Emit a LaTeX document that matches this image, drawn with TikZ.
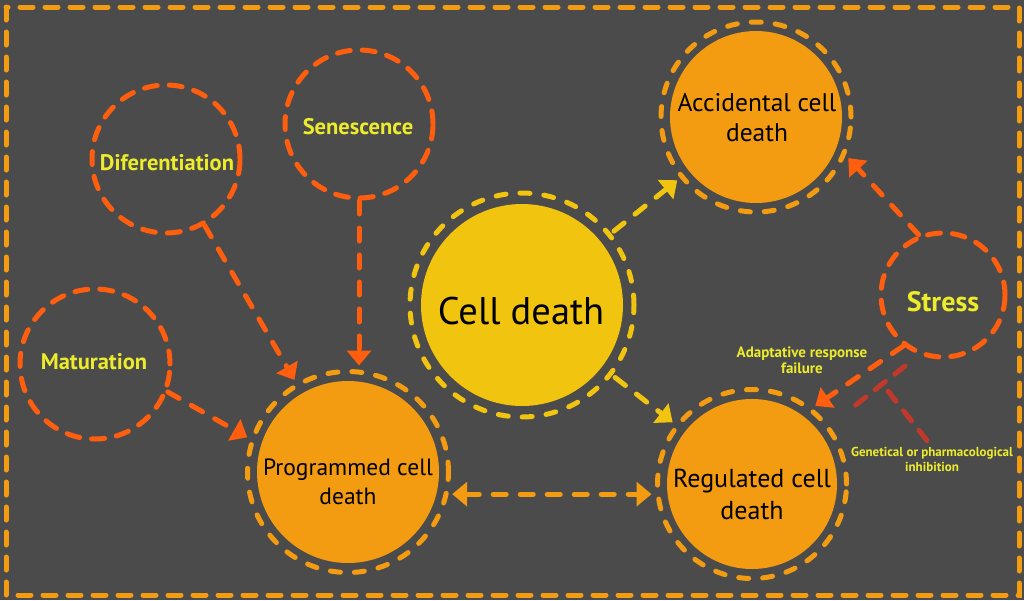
\documentclass[tikz,border=0pt]{standalone}
\usepackage{fontspec}
\setmainfont{PT Sans}
\usetikzlibrary{arrows.meta}
\definecolor{bg}{HTML}{4B4B4B}
\definecolor{orng}{HTML}{F39C12}
\definecolor{yel}{HTML}{F1C40F}
\definecolor{redor}{HTML}{FF5E0E}
\definecolor{inh}{HTML}{C0392B}
\definecolor{lbl}{HTML}{ECEC2C}
\begin{document}
\begin{tikzpicture}[x=1pt,y=-1pt,
  ring/.style={circle, draw, line width=5pt, dash pattern=on 10pt off 14pt, line cap=round, inner sep=0pt, outer sep=6pt},
  proc/.style={circle, draw=redor, line width=5pt, dash pattern=on 13pt off 12pt, line cap=round, inner sep=0pt, outer sep=3pt},
  ptext/.style={text=lbl, inner sep=0pt, font=\bfseries\fontsize{22.5}{26}\selectfont},
  core/.style={circle, inner sep=0pt, outer sep=0pt},
  ctext/.style={align=center, text=black, inner sep=0pt},
  conn/.style={line width=5pt, dash pattern=on 13pt off 14pt, line cap=round, -{Triangle[length=15pt,width=24pt]}},
  lab/.style={align=center, text=lbl, inner sep=0pt, font=\bfseries\fontsize{15}{16}\selectfont},
  inhline/.style={inh, line width=5pt, dash pattern=on 13pt off 12pt, line cap=round},
]
\fill[bg] (0,0) rectangle (1024,600);
\useasboundingbox (0,0) rectangle (1024,600);
\draw[orng, line width=5pt, dash pattern=on 13pt off 12pt, line cap=round] (6,7) rectangle (1019,595);

% main nodes
\node[ring, draw=yel, minimum size=224pt] (cd) at (522,305) {};
\node[core, fill=yel, minimum size=202pt] (cdF) at (cd) {};
\node[ctext, font=\fontsize{38.5}{46}\selectfont] (cdT) at (521,311) {Cell death};

\node[ring, draw=orng, minimum size=190pt] (acc) at (756,117) {};
\node[core, fill=orng, minimum size=172pt] (accF) at (acc) {};
\node[ctext, font=\fontsize{25.5}{30}\selectfont] (accT) at (757,118) {Accidental cell\\death};

\node[ring, draw=orng, minimum size=201pt] (pcd) at (348,472) {};
\node[core, fill=orng, minimum size=182pt] (pcdF) at (pcd) {};
\node[ctext, font=\fontsize{23.5}{29}\selectfont] (pcdT) at (348,482) {Programmed cell\\death};

\node[ring, draw=orng, minimum size=189pt] (reg) at (752,484) {};
\node[core, fill=orng, minimum size=170pt] (regF) at (reg) {};
\node[ctext, font=\fontsize{26}{32}\selectfont] (regT) at (752,494) {Regulated cell\\death};

% process nodes
\node[proc, minimum size=124pt] (stress) at (943,295) {};
\node[ptext, font=\bfseries\fontsize{28}{30}\selectfont] (stressT) at (943,302) {Stress};
\node[proc, minimum size=148pt] (sen) at (359,124) {};
\node[ptext] (senT) at (358,127) {Senescence};
\node[proc, minimum size=148pt] (dif) at (166,159) {};
\node[ptext] (difT) at (167,163) {Diferentiation};
\node[proc, minimum size=150pt] (mat) at (95,364) {};
\node[ptext] (matT) at (94,362) {Maturation};

% labels
\node[lab] (arf) at (802,360) {Adaptative response\\failure};
\node[lab, font=\bfseries\fontsize{13}{15}\selectfont] (gpi) at (932,459) {Genetical or pharmacological\\inhibition};

% connectors
\draw[conn, redor] (sen.south) -- (sen.south |- pcd.north);
\draw[conn, redor] (dif) -- (pcd);
\draw[conn, redor] (mat.-21) -- (pcd.161);
\draw[conn, yel] (cd) -- (acc);
\draw[conn, yel] (cd) -- (reg);
\draw[conn, redor] (stress.112) -- (acc.-24);
\draw[conn, redor] (stress.232) -- (reg.51);
\draw[conn, orng, {Triangle[length=15pt,width=24pt]}-{Triangle[length=15pt,width=24pt]}] (pcd.-12) -- (pcd.-12 -| reg.west);

% inhibition
\coordinate (barA) at (905,366);
\coordinate (barB) at (852,408);
\coordinate (barM) at (884,386);
\draw[inhline] (barA) -- (barB);
\draw[inhline] ([xshift=-5pt]gpi.north) ++(0,-6) -- (barM);
\end{tikzpicture}
\end{document}
